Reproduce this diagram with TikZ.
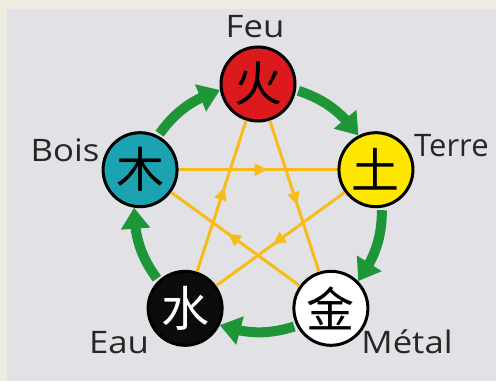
\documentclass[tikz,border=0pt]{standalone}
\usepackage{fontspec}
\usepackage{xcolor}
\usepackage{tikz}
\usetikzlibrary{arrows.meta,calc,bending,decorations.markings}
\newfontfamily\cjkfont{Noto Sans CJK SC}
\newfontfamily\labelfont[FakeStretch=1.12]{Open Sans}
\definecolor{bgouter}{HTML}{EEECE1}
\definecolor{bginner}{HTML}{E2E2E6}
\definecolor{feured}{HTML}{DC1A1E}
\definecolor{terreyellow}{HTML}{FFE600}
\definecolor{boisteal}{HTML}{1CA3B2}
\definecolor{eaublack}{HTML}{0C0C0C}
\definecolor{cyclegreen}{HTML}{1E9637}
\definecolor{starorange}{HTML}{F8BC18}
\tikzset{
  element/.style={circle,draw=black,line width=3pt,minimum size=74pt,inner sep=0pt,
    font=\cjkfont\fontsize{48}{48}\selectfont},
  elabel/.style={anchor=base,font=\labelfont\fontsize{31}{31}\selectfont,text=black!85},
  gen/.style={cyclegreen,line width=10pt,-{Triangle[width=28pt,length=21pt]}},
  ctrl/.style={starorange,line width=3pt,postaction={decorate},
    decoration={markings,mark=at position .56 with {\arrow{Triangle[width=12pt,length=13pt]}}}}
}

\begin{document}
\begin{tikzpicture}[x=1pt,y=1pt]
  \useasboundingbox (0,0) rectangle (496,381);
  \fill[bgouter] (0,0) rectangle (496,381);
  \fill[bginner] (7,0) rectangle (496,372);
  \coordinate (C) at (258,173);
  % the five elements
  \node[element,fill=feured] (feu) at ($(C)+(90:124)$) {火};
  \node[element,fill=terreyellow] (terre) at ($(C)+(18:124)$) {土};
  \node[element,fill=white] (metal) at ($(C)+(-54:124)$) {金};
  \node[element,fill=eaublack,text=white] (eau) at ($(C)+(-126:124)$) {水};
  \node[element,fill=boisteal] (bois) at ($(C)+(162:124)$) {木};
  % labels
  \node[elabel] (feulbl) at (255,343) {Feu};
  \node[elabel,anchor=base west,inner sep=0pt] (terrelbl) at (414,224) {\addfontfeature{FakeStretch=1.0}Terre};
  \node[elabel] (boislbl) at (65,219) {Bois};
  \node[elabel] (eaulbl) at (119,28) {Eau};
  \node[elabel] (metallbl) at (407,28) {Métal};
  % star
  \draw[ctrl] (bois) -- (terre);
  \draw[ctrl] (terre) -- (eau);
  \draw[ctrl] (eau) -- (feu);
  \draw[ctrl] (feu) -- (metal);
  \draw[ctrl] (metal) -- (bois);
  % outer cycle
  \draw[gen,shorten <=2.5pt] (bois.62.5) to[bend left=17.5] (feu.189.5);
  \draw[gen,shorten <=2.5pt] (feu.-9.5) to[bend left=17.5] (terre.117.5);
  \draw[gen,shorten <=2.5pt] (terre.-81.5) to[bend left=17.5] (metal.45.5);
  \draw[gen,shorten <=2.5pt] (metal.-153.5) to[bend left=17.5] (eau.-26.5);
  \draw[gen,shorten <=2.5pt] (eau.134.5) to[bend left=17.5] (bois.261.5);
\end{tikzpicture}
\end{document}
